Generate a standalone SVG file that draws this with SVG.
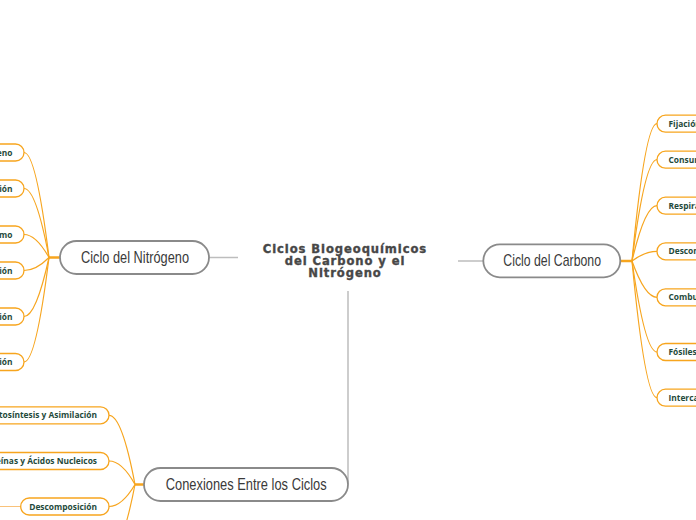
<svg xmlns="http://www.w3.org/2000/svg" width="696" height="520" viewBox="0 0 696 520">
<style>
.main{fill:#fff;stroke:#8a8a8a;stroke-width:1.8}
.mt{font-family:"Liberation Sans",sans-serif;font-size:17px;fill:#3a3a3a}
.sub{fill:#fff;stroke:#f7a51e;stroke-width:1.3}
.st{font-family:"Open Sans","Noto Sans",sans-serif;font-weight:bold;font-size:8.4px;fill:#1f4a3b}
.title{font-family:"DejaVu Sans",sans-serif;font-weight:bold;font-size:11.6px;fill:#474747;letter-spacing:0.9px;stroke:#474747;stroke-width:0.35}
.gl{stroke:#bdbdbd;stroke-width:1.5;fill:none}
.oc{stroke:#f7a51e;stroke-width:1.2;fill:none}
.hub{stroke:#f7a51e;stroke-width:2.5;fill:none}
</style>
<g id="connectors">
<line class="gl" x1="209" y1="257.5" x2="238" y2="257.5"/>
<line class="gl" x1="458" y1="261" x2="483" y2="261"/>
<line class="gl" x1="348" y1="291" x2="348" y2="484"/>
<line class="hub" x1="49" y1="257.5" x2="60" y2="257.5"/>
<line class="hub" x1="620" y1="261" x2="632" y2="261"/>
<line class="hub" x1="135" y1="484.5" x2="144" y2="484.5"/>
<path class="oc" d="M49 257.5 Q36 152.5 24 152.5"/>
<path class="oc" d="M49 257.5 Q36 188.5 24 188.5"/>
<path class="oc" d="M49 257.5 Q36 234.5 24 234.5"/>
<path class="oc" d="M49 257.5 Q36 270.5 24 270.5"/>
<path class="oc" d="M49 257.5 Q36 316.5 24 316.5"/>
<path class="oc" d="M49 257.5 Q36 362 24 362"/>
<path class="oc" d="M632 261 Q645 123.7 657 123.7"/>
<path class="oc" d="M632 261 Q645 159.7 657 159.7"/>
<path class="oc" d="M632 261 Q645 205.7 657 205.7"/>
<path class="oc" d="M632 261 Q645 251.3 657 251.3"/>
<path class="oc" d="M632 261 Q645 297.3 657 297.3"/>
<path class="oc" d="M632 261 Q645 352 657 352"/>
<path class="oc" d="M632 261 Q645 397.7 657 397.7"/>
<path class="oc" d="M135 484.5 Q122 415.3 109 415.3"/>
<path class="oc" d="M135 484.5 Q122 461 109 461"/>
<path class="oc" d="M135 484.5 Q122 506.5 109 506.5"/>
<path class="oc" d="M135 484.5 Q122 552 109 552"/>
<line x1="0" y1="506.5" x2="21" y2="506.5" stroke="#f9c27a" stroke-width="1"/>
</g>
<g id="center">
<text class="title" text-anchor="middle"><tspan x="345" y="253">Ciclos Biogeoquímicos</tspan><tspan x="345" y="265">del Carbono y el</tspan><tspan x="345" y="277">Nitrógeno</tspan></text>
</g>
<g id="nitrogeno">
<rect class="main" x="60" y="241" width="149" height="33" rx="16.5"/>
<text class="mt" x="81" y="262.5" textLength="108" lengthAdjust="spacingAndGlyphs">Ciclo del Nitrógeno</text>
</g>
<g id="carbono">
<rect class="main" x="483.3" y="244.3" width="137" height="33" rx="16.5"/>
<text class="mt" x="503.3" y="266" textLength="97.7" lengthAdjust="spacingAndGlyphs">Ciclo del Carbono</text>
</g>
<g id="conexiones">
<rect class="main" x="144" y="468" width="204" height="33" rx="16.5"/>
<text class="mt" x="165.7" y="489.5" textLength="161" lengthAdjust="spacingAndGlyphs">Conexiones Entre los Ciclos</text>
</g>
<g id="n1"><rect class="sub" x="-60" y="144" width="84" height="17" rx="8.5"/><text class="st" x="12.5" y="155.5" text-anchor="end">eno</text></g>
<g id="n2"><rect class="sub" x="-60" y="180" width="84" height="17" rx="8.5"/><text class="st" x="12.5" y="191.5" text-anchor="end">ión</text></g>
<g id="n3"><rect class="sub" x="-60" y="226" width="84" height="17" rx="8.5"/><text class="st" x="12.5" y="237.5" text-anchor="end">mo</text></g>
<g id="n4"><rect class="sub" x="-60" y="262" width="84" height="17" rx="8.5"/><text class="st" x="12.5" y="273.5" text-anchor="end">ión</text></g>
<g id="n5"><rect class="sub" x="-60" y="308" width="84" height="17" rx="8.5"/><text class="st" x="12.5" y="319.5" text-anchor="end">ión</text></g>
<g id="n6"><rect class="sub" x="-60" y="353.5" width="84" height="17" rx="8.5"/><text class="st" x="12.5" y="365" text-anchor="end">ión</text></g>
<g id="c1"><rect class="sub" x="657" y="115.2" width="80" height="17" rx="8.5"/><text class="st" x="668.5" y="126.7">Fijación</text></g>
<g id="c2"><rect class="sub" x="657" y="151.2" width="80" height="17" rx="8.5"/><text class="st" x="668.5" y="162.7">Consum</text></g>
<g id="c3"><rect class="sub" x="657" y="197.2" width="80" height="17" rx="8.5"/><text class="st" x="668.5" y="208.7">Respira</text></g>
<g id="c4"><rect class="sub" x="657" y="242.8" width="80" height="17" rx="8.5"/><text class="st" x="668.5" y="254.3">Descom</text></g>
<g id="c5"><rect class="sub" x="657" y="288.8" width="80" height="17" rx="8.5"/><text class="st" x="668.5" y="300.3">Combu</text></g>
<g id="c6"><rect class="sub" x="657" y="343.5" width="80" height="17" rx="8.5"/><text class="st" x="668.5" y="355">Fósiles</text></g>
<g id="c7"><rect class="sub" x="657" y="389.2" width="80" height="17" rx="8.5"/><text class="st" x="668.5" y="400.7">Interca</text></g>
<g id="b1"><rect class="sub" x="-40" y="406.8" width="149" height="17" rx="8.5"/><text class="st" x="97" y="418.3" text-anchor="end">otosíntesis y Asimilación</text></g>
<g id="b2"><rect class="sub" x="-40" y="452.5" width="149" height="17" rx="8.5"/><text class="st" x="97" y="464" text-anchor="end">eínas y Ácidos Nucleicos</text></g>
<g id="b3"><rect class="sub" x="20.7" y="498" width="88.3" height="17" rx="8.5"/><text class="st" x="97" y="509.5" text-anchor="end">Descomposición</text></g>
</svg>
